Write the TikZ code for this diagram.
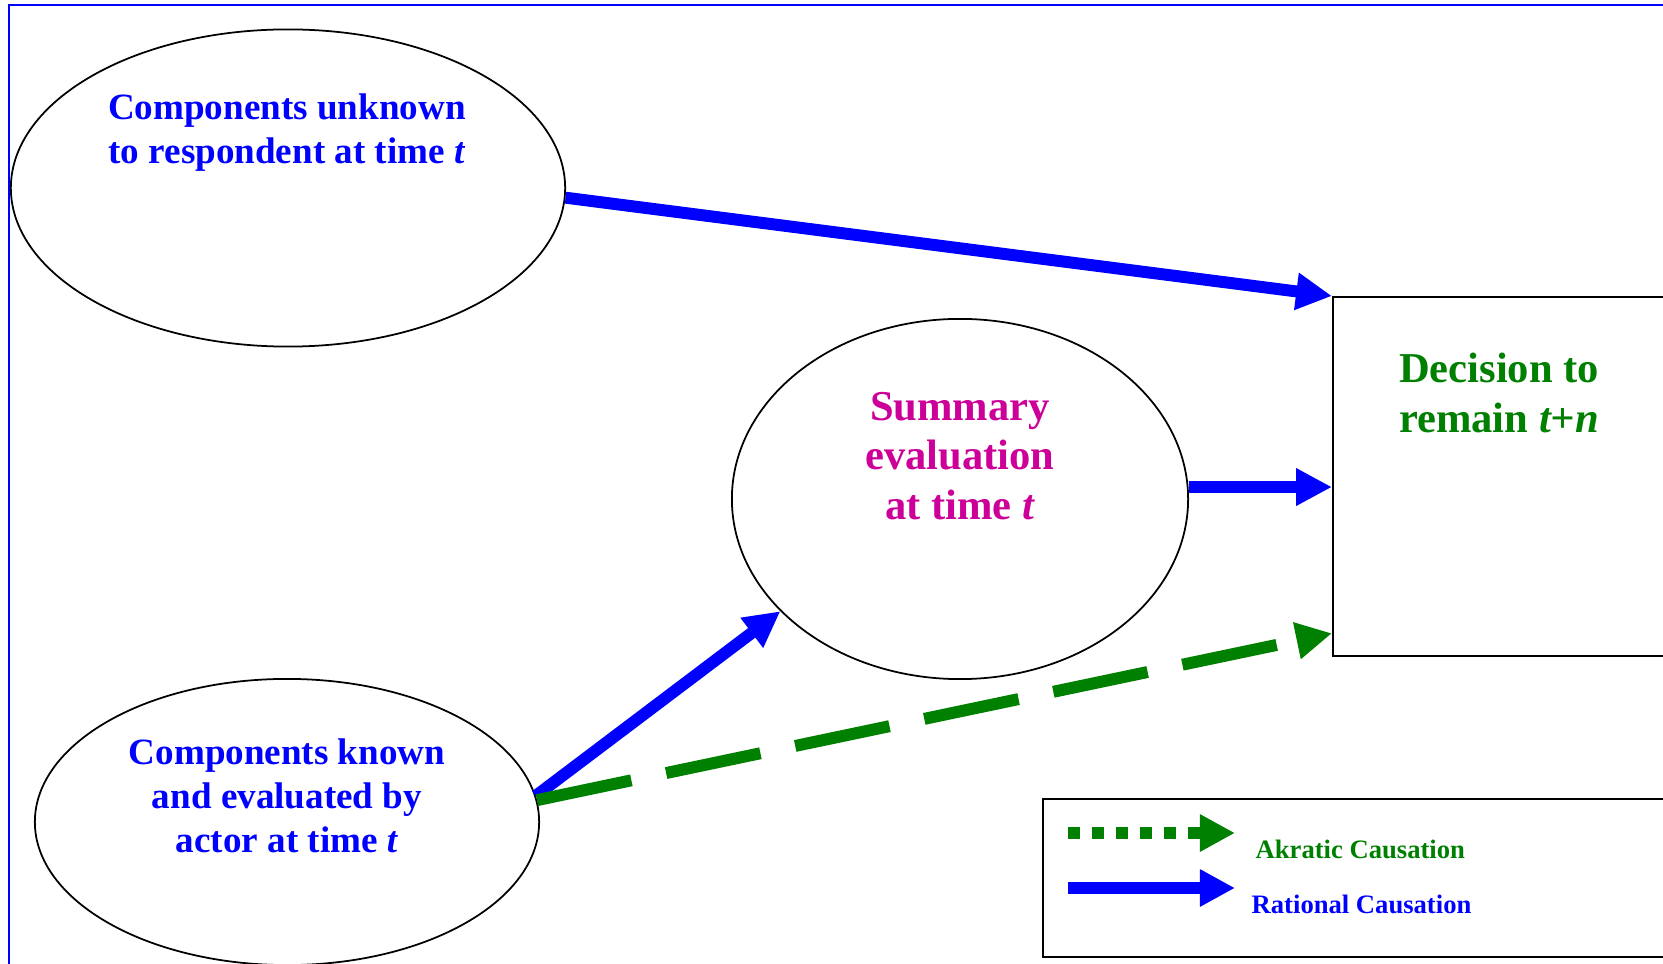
\documentclass[tikz,border=0pt]{standalone}
\usepackage{fontspec}
\setmainfont{Liberation Serif}
\usetikzlibrary{shapes.geometric,arrows.meta,calc,positioning}
\definecolor{ratblue}{RGB}{0,0,255}
\definecolor{akgreen}{RGB}{0,128,0}
\definecolor{summag}{RGB}{204,0,153}

\begin{document}
\begin{tikzpicture}[x=0.01cm,y=-0.01cm,
        comp/.style={draw,ellipse,line width=0.5pt,inner sep=0pt},
        box/.style={draw,line width=0.6pt,anchor=north west},
        rational/.style={ratblue,line width=3.4pt,-{Triangle[length=10.2pt,width=10pt]}},
        akratic/.style={akgreen,line width=3.4pt,dash pattern=on 27.4pt off 10.1pt,-{Triangle[length=10.2pt,width=10pt]}},
        comptext/.style={font=\fontsize{10.55}{12.5}\selectfont\bfseries,align=center,text=ratblue},
        bigtext/.style={font=\fontsize{12.1}{14}\selectfont\bfseries,align=center},
        keytext/.style={font=\fontsize{7.57}{9}\selectfont\bfseries,anchor=west,inner sep=0pt}]
        \clip (0,0) rectangle (1663,964);
        \draw[ratblue,line width=0.65pt] (9,5) rectangle (1700,1000);
        % ellipses and boxes
        \node[comp,minimum width=5.54cm,minimum height=3.17cm] (unknown) at (288,188) {};
        \node[comp,minimum width=4.56cm,minimum height=3.6cm] (summary) at (960,499) {};
        \node[comp,minimum width=5.04cm,minimum height=2.86cm] (known) at (287,822) {};
        \node[box,minimum width=4cm,minimum height=3.59cm] (decision) at (1332,296) {};
        \node[box,minimum width=7cm,minimum height=1.58cm] (legend) at (1042,798) {};
        % texts
        \node[comptext] (unknowntxt) at (287,133) {Components unknown\\to respondent at time \textit{t}};
        \node[bigtext,text=summag] (summarytxt) at (960,456) {Summary\\evaluation\\at time \textit{t}};
        \node[comptext] (knowntxt) at (287,796) {Components known\\and evaluated by\\actor at time \textit{t}};
        \node[bigtext,text=akgreen] (decisiontxt) at (1499,393) {Decision to\\remain \textit{t+n}};
        % causation arrows
        \draw[rational] (unknown.-2) -- (decision.north west);
        \draw[rational] (summary.3) -- (summary.3 -| decision.west);
        \draw[rational] (known.6) -- (summary.212);
        \draw[akratic] (known.5) -- ($(decision.south west)+(0,-24)$);
        % legend
        \coordinate (akstart) at (1068,833);
        \coordinate (akend) at (1235,833);
        \coordinate (ratstart) at (1068,888);
        \coordinate (ratend) at (1235,888);
        \draw[akgreen,line width=3.33pt,dash pattern=on 3.33pt off 3.5pt,-{Triangle[length=10pt,width=10pt]}] (akstart) -- (akend);
        \draw[ratblue,line width=3.55pt,-{Triangle[length=10pt,width=10pt]}] (ratstart) -- (ratend);
        \node[keytext,text=akgreen] (aklabel) at (1255,849) {Akratic Causation};
        \node[keytext,text=ratblue] (ratlabel) at (1251,904) {Rational Causation};
\end{tikzpicture}
\end{document}
